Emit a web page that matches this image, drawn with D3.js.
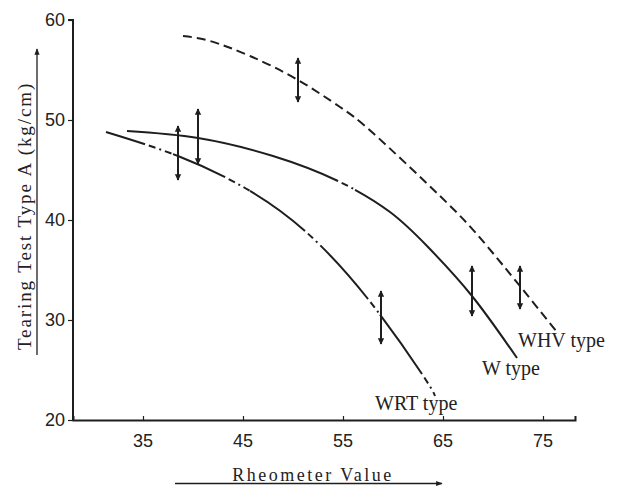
<!DOCTYPE html>
<html>
<head>
<meta charset="utf-8">
<script src="https://cdn.jsdelivr.net/npm/d3@7"></script>
<style>
  body { margin: 0; background: #fff; }
</style>
</head>
<body>
<svg id="chart" width="618" height="486"></svg>
<script>
// ---------------- Data ----------------
const wrtX = [31.3, 38.5, 45.2, 51.2, 57.5, 62.9, 64.2];
const wrtY = [48.8, 46.4, 43.2, 38.9, 32.1, 24.6, 22.4];

const wX = [33.4, 40.5, 48.0, 54.5, 59.7, 63.5, 67.9, 72.4];
const wY = [48.9, 48.2, 46.4, 43.9, 40.8, 37.3, 32.4, 26.2];

const whvX = [39.0, 41.7, 45.7, 50.5, 54.7, 58.0, 64.7, 69.4, 76.4];
const whvY = [58.4, 57.9, 56.4, 54.0, 51.3, 48.7, 42.4, 37.4, 28.8];

// ranges (rheometer value) where the chain line is broken
const wrtBreaks = [[35.2, 38.0], [43.2, 45.7], [51.2, 52.9], [57.5, 58.7], [62.9, 64.2]];
const wBreaks = [[54.5, 56.2]];

// scatter bars
const barX  = [38.5, 40.5, 50.5, 58.8, 67.9, 72.7];
const barLo = [44.0, 45.6, 51.8, 27.6, 30.4, 31.1];
const barHi = [49.4, 51.1, 56.2, 32.9, 35.4, 35.4];

const seriesNames = ["WRT type", "W type", "WHV type"];
const xTicks = [35, 45, 55, 65, 75];
const yTicks = [20, 30, 40, 50, 60];

// ---------------- Setup ----------------
const ink = "#1e1e1e";
const serif = "'Liberation Serif', 'DejaVu Serif', serif";
const sans = "'Liberation Sans Narrow', 'Liberation Sans', Arial, sans-serif";

const svg = d3.select("#chart");

const x = d3.scaleLinear().domain([28.0, 78.2]).range([73, 575]);
const y = d3.scaleLinear().domain([20, 60]).range([420, 20]);

const defs = svg.append("defs");
defs.append("marker")
    .attr("id", "tip")
    .attr("viewBox", "0 0 10 10")
    .attr("refX", 9).attr("refY", 5)
    .attr("markerWidth", 3.2).attr("markerHeight", 4)
    .attr("markerUnits", "strokeWidth")
    .attr("orient", "auto-start-reverse")
  .append("path")
    .attr("d", "M0,0L10,5L0,10z")
    .attr("fill", ink);
defs.append("marker")
    .attr("id", "bigtip")
    .attr("viewBox", "0 0 10 10")
    .attr("refX", 9).attr("refY", 5)
    .attr("markerWidth", 8).attr("markerHeight", 5)
    .attr("markerUnits", "strokeWidth")
    .attr("orient", "auto")
  .append("path")
    .attr("d", "M0,1L10,5L0,9z")
    .attr("fill", ink);

// ---------------- Axes ----------------
const yAxis = svg.append("g")
    .attr("transform", `translate(${x(28.0)},0)`)
    .call(d3.axisLeft(y).tickValues(yTicks).tickSize(5).tickPadding(3));
const xAxis = svg.append("g")
    .attr("transform", `translate(0,${y(20)})`)
    .call(d3.axisTop(x).tickValues(xTicks).tickSize(4).tickFormat(""));

[yAxis, xAxis].forEach(g => {
  g.select(".domain").attr("stroke", ink).attr("stroke-width", 2);
  g.selectAll(".tick line").attr("stroke", ink).attr("stroke-width", 1.2);
});
yAxis.select(".domain").attr("d", `M-5,${y(60)}H0V${y(20)}`);
yAxis.selectAll(".tick text")
    .attr("fill", "#222")
    .style("font-family", sans)
    .style("font-size", "18px");

// x tick labels sit below the axis
svg.append("g")
  .selectAll("text")
  .data(xTicks)
  .join("text")
    .attr("x", d => x(d))
    .attr("y", y(20) + 27)
    .attr("text-anchor", "middle")
    .attr("fill", "#222")
    .style("font-family", sans)
    .style("font-size", "18px")
    .text(d => d);

// axis titles with their arrows
svg.append("text")
    .attr("transform", "translate(31,216) rotate(-90)")
    .attr("text-anchor", "middle")
    .attr("fill", "#222")
    .style("font-family", serif)
    .style("font-size", "19px")
    .style("letter-spacing", "1.9px")
    .text("Tearing Test Type A (kg/cm)");
svg.append("line")
    .attr("x1", 37).attr("y1", 355)
    .attr("x2", 37).attr("y2", 49)
    .attr("stroke", ink).attr("stroke-width", 1.3)
    .attr("marker-end", "url(#bigtip)");

svg.append("text")
    .attr("x", 313).attr("y", 481)
    .attr("text-anchor", "middle")
    .attr("fill", "#222")
    .style("font-family", serif)
    .style("font-size", "18px")
    .style("letter-spacing", "2.5px")
    .text("Rheometer Value");
svg.append("line")
    .attr("x1", 175).attr("y1", 483.5)
    .attr("x2", 442).attr("y2", 483.5)
    .attr("stroke", ink).attr("stroke-width", 1.3)
    .attr("marker-end", "url(#bigtip)");

// ---------------- Curves ----------------
const line = d3.line()
    .x(d => x(d[0]))
    .y(d => y(d[1]))
    .curve(d3.curveNatural);

// build a dash array that is solid except inside the break ranges (chain line)
function chainDash(node, breaks) {
  const L = node.getTotalLength();
  const lenAt = px => {
    let lo = 0, hi = L;
    for (let i = 0; i < 30; i++) {
      const m = (lo + hi) / 2;
      if (node.getPointAtLength(m).x < px) lo = m; else hi = m;
    }
    return (lo + hi) / 2;
  };
  const parts = [];
  const push = (len, on) => {
    if (len <= 0) return;
    const last = parts[parts.length - 1];
    if (last && last[1] === on) last[0] += len; else parts.push([len, on]);
  };
  const pattern = [[4, false], [7, true], [4, false], [2, true]];
  let pos = 0;
  breaks.forEach(([a, b]) => {
    const la = lenAt(x(a)), lb = Math.min(L, lenAt(x(b)));
    push(la - pos, true);
    let p = la, k = 0;
    while (p < lb - 0.01) {
      const [len, on] = pattern[k % pattern.length];
      const l = Math.min(len, lb - p);
      push(l, on);
      p += l; k++;
    }
    pos = lb;
  });
  push(L - pos, true);
  const arr = parts[0][1] ? [] : [0];
  parts.forEach(p => arr.push(p[0].toFixed(2)));
  if (arr.length % 2) arr.push(L);
  return arr.join(",");
}

const wrtPath = svg.append("path")
    .datum(d3.zip(wrtX, wrtY))
    .attr("d", line)
    .attr("fill", "none").attr("stroke", ink).attr("stroke-width", 2);
wrtPath.attr("stroke-dasharray", chainDash(wrtPath.node(), wrtBreaks));

const wPath = svg.append("path")
    .datum(d3.zip(wX, wY))
    .attr("d", line)
    .attr("fill", "none").attr("stroke", ink).attr("stroke-width", 2);
wPath.attr("stroke-dasharray", chainDash(wPath.node(), wBreaks));

svg.append("path")
    .datum(d3.zip(whvX, whvY))
    .attr("d", line)
    .attr("fill", "none").attr("stroke", ink).attr("stroke-width", 2)
    .attr("stroke-dasharray", "9,5");

// scatter bars (double arrows)
svg.append("g")
  .selectAll("line")
  .data(d3.zip(barX, barLo, barHi))
  .join("line")
    .attr("x1", d => x(d[0])).attr("x2", d => x(d[0]))
    .attr("y1", d => y(d[1])).attr("y2", d => y(d[2]))
    .attr("stroke", ink).attr("stroke-width", 2)
    .attr("marker-start", "url(#tip)")
    .attr("marker-end", "url(#tip)");

// curve labels
const labelPos = [[58.2, 21.0], [68.9, 24.5], [72.5, 27.3]];
svg.append("g")
  .selectAll("text")
  .data(d3.zip(seriesNames, labelPos))
  .join("text")
    .attr("x", d => x(d[1][0]))
    .attr("y", d => y(d[1][1]))
    .attr("fill", "#222")
    .style("font-family", serif)
    .style("font-size", "20px")
    .text(d => d[0]);
</script>
</body>
</html>
